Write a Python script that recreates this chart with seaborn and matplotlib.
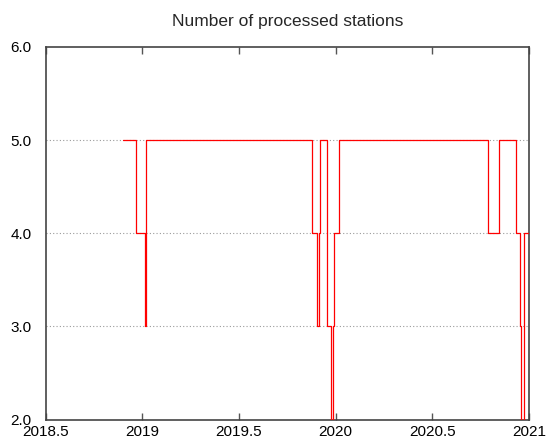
import matplotlib
matplotlib.use("Agg")
import matplotlib.pyplot as plt
import seaborn as sns
import pandas as pd
from matplotlib.ticker import FormatStrFormatter, FuncFormatter

# Step change times (decimal year) and station counts from that time on
times = [2018.899, 2018.968, 2019.012, 2019.022, 2019.876, 2019.902, 2019.912,
         2019.919, 2019.958, 2019.977, 2019.986, 2019.993, 2020.017, 2020.788,
         2020.845, 2020.935, 2020.952, 2020.961, 2020.975, 2020.999]
stations = [5, 4, 3, 5, 4, 3, 4, 5, 3, 2, 3, 4, 5, 4, 5, 4, 3, 2, 4, 4]
x_ticks = [2018.5, 2019, 2019.5, 2020, 2020.5, 2021]
y_ticks = [2.0, 3.0, 4.0, 5.0, 6.0]
title = "Number of processed stations"

sns.set_style("white")
plt.rcParams["font.family"] = ["Liberation Sans", "DejaVu Sans"]

df = pd.DataFrame({"time": times, "stations": stations})

fig = plt.figure(figsize=(5.46, 4.42), dpi=100)
ax = fig.add_axes([45.5 / 546, 1 - 419.5 / 442, (529 - 45.5) / 546, (419.5 - 47) / 442])

sns.lineplot(data=df, x="time", y="stations", ax=ax, drawstyle="steps-post",
             estimator=None, color="#ff0000", linewidth=0.9, zorder=3)

ax.set_xlim(2018.5, 2021)
ax.set_ylim(2.0, 6.0)
ax.set_xticks(x_ticks)
ax.set_yticks(y_ticks)
ax.xaxis.set_major_formatter(FuncFormatter(lambda v, p: "%g" % v))
ax.yaxis.set_major_formatter(FormatStrFormatter("%.1f"))
ax.set_xlabel("")
ax.set_ylabel("")

for yv in [3.0, 4.0, 5.0]:
    ax.axhline(yv, color="#9a9a9a", linestyle=(0, (1, 2)), linewidth=0.8, zorder=1)

ax.tick_params(axis="x", direction="in", length=5, width=1.0, color="#555555",
               top=True, bottom=True, labelsize=11, pad=4, labelcolor="black")
ax.tick_params(axis="y", length=0, labelsize=11, pad=10, labelcolor="black")

for s in ax.spines.values():
    s.set_visible(True)
    s.set_color("#444444")
    s.set_linewidth(1.2)

ax.set_title(title, fontsize=12.5, pad=15)

fig.savefig("out.png", dpi=100)
